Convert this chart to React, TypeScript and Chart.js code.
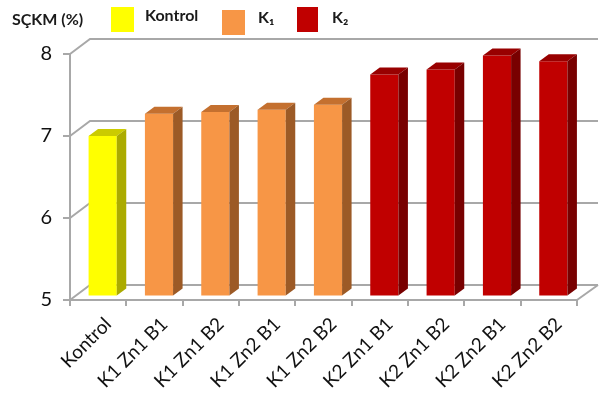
import React, { useEffect, useRef } from 'react';
import { Chart, registerables } from 'chart.js';

Chart.register(...registerables);

const categories = ['Kontrol', 'K1 Zn1 B1', 'K1 Zn1 B2', 'K1 Zn2 B1', 'K1 Zn2 B2', 'K2 Zn1 B1', 'K2 Zn1 B2', 'K2 Zn2 B1', 'K2 Zn2 B2'];
const values = [6.96, 7.23, 7.25, 7.28, 7.34, 7.71, 7.77, 7.94, 7.87];
const groupOfBar = [0, 1, 1, 1, 1, 2, 2, 2, 2];
const groupLabels = ['Kontrol', 'K₁', 'K₂'];
const yTicks = [5, 6, 7, 8];
const axisTitle = 'SÇKM (%)';

const frontColors = ['#FFFF00', '#F79646', '#C00000'];
const topColors = ['#CBCB00', '#C4702F', '#980000'];
const sideColors = ['#ABAB00', '#9C5A26', '#780000'];

const GRID = '#A8A8A8';
const WALL_DX = 20;
const WALL_DY = 15;
const BAR_SHIFT_X = 4.5;
const BAR_SHIFT_Y = 3.4;
const BAR_DEPTH_X = 9.5;
const BAR_DEPTH_Y = 7;

const threeDPlugin = {
  id: 'threeD',
  beforeDatasetsDraw(chart: any) {
    const { ctx, chartArea } = chart;
    const y = chart.scales.y;
    ctx.save();
    ctx.strokeStyle = GRID;
    ctx.lineWidth = 2;
    yTicks.forEach((v) => {
      const py = y.getPixelForValue(v);
      ctx.beginPath();
      ctx.moveTo(chartArea.left, py);
      ctx.lineTo(chartArea.left + WALL_DX, py - WALL_DY);
      ctx.lineTo(chartArea.right + WALL_DX + 1, py - WALL_DY);
      ctx.stroke();
    });
    const pBase = y.getPixelForValue(yTicks[0]);
    ctx.beginPath();
    ctx.moveTo(chartArea.right, pBase);
    ctx.lineTo(chartArea.right + WALL_DX + 1, pBase - WALL_DY);
    ctx.stroke();
    ctx.restore();

    ctx.save();
    ctx.translate(BAR_SHIFT_X, -BAR_SHIFT_Y);
  },
  afterDatasetsDraw(chart: any) {
    const ctx = chart.ctx;
    const meta = chart.getDatasetMeta(0);
    meta.data.forEach((bar: any, i: number) => {
      const { x, y, base, width } = bar.getProps(['x', 'y', 'base', 'width'], true);
      const x1 = x - width / 2;
      const x2 = x + width / 2;
      const g = groupOfBar[i];
      ctx.fillStyle = topColors[g];
      ctx.beginPath();
      ctx.moveTo(x1, y);
      ctx.lineTo(x1 + BAR_DEPTH_X, y - BAR_DEPTH_Y);
      ctx.lineTo(x2 + BAR_DEPTH_X, y - BAR_DEPTH_Y);
      ctx.lineTo(x2, y);
      ctx.closePath();
      ctx.fill();
      ctx.fillStyle = sideColors[g];
      ctx.beginPath();
      ctx.moveTo(x2, y);
      ctx.lineTo(x2 + BAR_DEPTH_X, y - BAR_DEPTH_Y);
      ctx.lineTo(x2 + BAR_DEPTH_X, base - BAR_DEPTH_Y);
      ctx.lineTo(x2, base);
      ctx.closePath();
      ctx.fill();
    });
    ctx.restore();
  },
  afterDraw(chart: any) {
    const ctx = chart.ctx;
    ctx.save();
    ctx.fillStyle = '#1a1a1a';
    ctx.textBaseline = 'alphabetic';
    ctx.font = 'bold 16px Lato';
    ctx.fillText(axisTitle, 12, 25);
    const boxX = [111, 222, 297];
    const boxY = [7, 10, 7];
    const boxW = [23, 23, 21];
    const textX = [145, 258, 332];
    const textY = [21, 23, 23];
    groupLabels.forEach((lab, i) => {
      ctx.fillStyle = frontColors[i];
      ctx.fillRect(boxX[i], boxY[i], boxW[i], 25);
      ctx.fillStyle = '#1a1a1a';
      ctx.font = 'bold 16px Lato';
      ctx.fillText(lab, textX[i], textY[i]);
    });
    ctx.restore();
  },
};

export default function App() {
  const ref = useRef<HTMLCanvasElement | null>(null);
  useEffect(() => {
    document.body.style.margin = '0';
    if (!ref.current) return;
    const chart = new Chart(ref.current, {
      type: 'bar',
      data: {
        labels: categories,
        datasets: [
          {
            data: values,
            base: yTicks[0],
            backgroundColor: values.map((_, i) => frontColors[groupOfBar[i]]),
            borderWidth: 0,
            categoryPercentage: 1,
            barPercentage: 0.5,
            clip: false as any,
          } as any,
        ],
      },
      options: {
        responsive: false,
        animation: false,
        layout: { padding: { top: 54, right: 28, left: 0, bottom: 0 } },
        plugins: { legend: { display: false }, tooltip: { enabled: false }, title: { display: false } },
        scales: {
          x: {
            grid: { drawOnChartArea: false, offset: true, drawTicks: true, tickLength: 6, color: GRID, lineWidth: 2 },
            border: { color: GRID, width: 2 },
            ticks: { maxRotation: 45, minRotation: 45, autoSkip: false, labelOffset: 10, font: { family: 'Lato', size: 19 }, color: '#111', padding: 7 },
            afterFit: (s: any) => { s.height = 95; },
          },
          y: {
            min: 5,
            max: 8,
            afterBuildTicks: (s: any) => { s.ticks = yTicks.map((v) => ({ value: v })); },
            ticks: { font: { family: 'Lato', size: 20 }, color: '#111', padding: 11 },
            grid: { drawOnChartArea: false, tickLength: 7, color: GRID, lineWidth: 2 },
            border: { color: GRID, width: 2 },
            afterFit: (s: any) => { s.width = 70; },
          },
        },
      },
      plugins: [threeDPlugin],
    });
    return () => chart.destroy();
  }, []);
  return (
    <div style={{ position: 'fixed', left: 0, top: 0, width: 605, height: 395, background: '#fff' }}>
      <canvas ref={ref} width={605} height={395} />
    </div>
  );
}
